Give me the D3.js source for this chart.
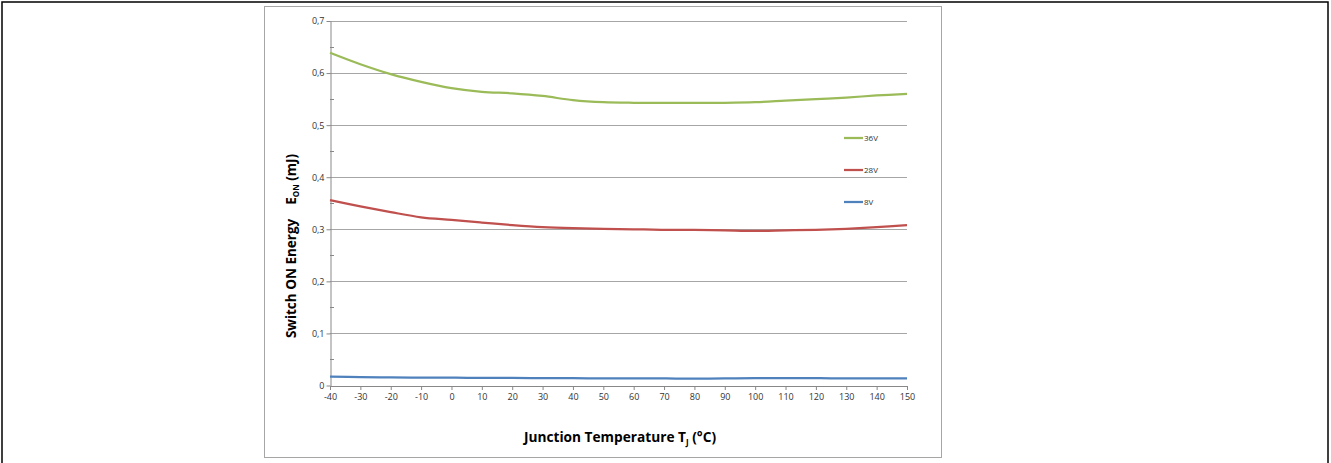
<!DOCTYPE html>
<html>
<head>
<meta charset="utf-8">
<script src="https://cdn.jsdelivr.net/npm/d3@7"></script>
<style>
  body { margin: 0; background: #fff; }
  svg { display: block; }
</style>
</head>
<body>
<script>
// temperatures (°C) and E_ON values (mJ)
const temps = [-40, -30, -20, -10, 0, 10, 20, 30, 40, 50, 60, 70, 80, 90, 100, 110, 120, 130, 140, 150];
const e36 = [0.639, 0.617, 0.598, 0.583, 0.571, 0.564, 0.561, 0.556, 0.548, 0.544, 0.543, 0.543, 0.543, 0.543, 0.544, 0.547, 0.550, 0.553, 0.557, 0.560];
const e28 = [0.356, 0.344, 0.333, 0.323, 0.318, 0.313, 0.308, 0.304, 0.302, 0.301, 0.300, 0.299, 0.299, 0.298, 0.297, 0.298, 0.299, 0.301, 0.304, 0.308];
const e8  = [0.017, 0.016, 0.0155, 0.015, 0.015, 0.0145, 0.0145, 0.014, 0.014, 0.0135, 0.0135, 0.0135, 0.013, 0.0135, 0.014, 0.014, 0.014, 0.0135, 0.0135, 0.0135];
const seriesNames = ["36V", "28V", "8V"];
const seriesColors = ["#9bbb59", "#c0504d", "#4f81bd"];
const yTicks = [0, 0.1, 0.2, 0.3, 0.4, 0.5, 0.6, 0.7];
const xTicks = d3.range(-40, 151, 10);

const svg = d3.select("body").append("svg")
  .attr("width", 1331)
  .attr("height", 463);

// outer frame (bottom edge runs past the picture)
svg.append("rect")
  .attr("x", 2).attr("y", 2)
  .attr("width", 1326).attr("height", 470)
  .attr("fill", "none").attr("stroke", "#000").attr("stroke-width", 1.5);

// chart frame
svg.append("rect")
  .attr("x", 264.5).attr("y", 6.5)
  .attr("width", 677).attr("height", 451)
  .attr("fill", "#fff").attr("stroke", "#a6a6a6").attr("stroke-width", 1);

let x = d3.scaleLinear().domain([-40, 150]).range([330, 907]);
let y = d3.scaleLinear().domain([0, 0.7]).range([385.5, 21]);

const font = "'Open Sans', 'Liberation Sans', sans-serif";

// gridlines
svg.append("g").selectAll("line")
  .data(yTicks.slice(1))
  .enter().append("line")
    .attr("x1", x(-40)).attr("x2", x(150))
    .attr("y1", (d) => Math.round(y(d)) + 0.5)
    .attr("y2", (d) => Math.round(y(d)) + 0.5)
    .attr("stroke", "#a6a6a6").attr("stroke-width", 1);

// minor ticks on the inside of the y axis
svg.append("g").selectAll("line")
  .data(yTicks.slice(0, -1).map((d) => d + 0.05))
  .enter().append("line")
    .attr("x1", x(-40)).attr("x2", x(-40) + 4)
    .attr("y1", (d) => Math.round(y(d)) + 0.5)
    .attr("y2", (d) => Math.round(y(d)) + 0.5)
    .attr("stroke", "#888");

// y axis
let yAxis = d3.axisLeft(y)
  .tickValues(yTicks)
  .tickSize(4)
  .tickSizeOuter(0)
  .tickFormat((d) => String(d).replace(".", ","));

let gy = svg.append("g")
  .attr("transform", "translate(" + (x(-40) + 0.5) + ",0)")
  .call(yAxis);
gy.select(".domain").attr("stroke", "#888");
gy.selectAll(".tick line").attr("stroke", "#888");
gy.selectAll(".tick text")
  .attr("x", -6)
  .style("font-family", font).style("font-size", "9px").attr("fill", "#333");

// x axis
let xAxis = d3.axisBottom(x)
  .tickValues(xTicks)
  .tickSize(4)
  .tickSizeOuter(0)
  .tickFormat((d) => String(d));

let gx = svg.append("g")
  .attr("transform", "translate(0," + (y(0) + 0.5) + ")")
  .call(xAxis);
gx.select(".domain").attr("stroke", "#888");
gx.selectAll(".tick line").attr("stroke", "#888");
gx.selectAll(".tick text")
  .attr("y", 8)
  .style("font-family", font).style("font-size", "9px").attr("fill", "#333");

// series lines
let line = d3.line()
  .x((d) => x(d[0]))
  .y((d) => y(d[1]))
  .curve(d3.curveCatmullRom.alpha(0.5));

[e36, e28, e8].forEach(function(vals, i) {
  svg.append("path")
    .datum(temps.map((t, j) => [t, vals[j]]))
    .attr("d", line)
    .attr("fill", "none")
    .attr("stroke", seriesColors[i])
    .attr("stroke-width", 2.25);
});

// legend
let legend = svg.append("g");
seriesNames.forEach(function(name, i) {
  let ly = 138 + i * 32;
  legend.append("line")
    .attr("x1", 844).attr("x2", 863)
    .attr("y1", ly).attr("y2", ly)
    .attr("stroke", seriesColors[i]).attr("stroke-width", 2.25);
  legend.append("text")
    .attr("x", 864).attr("y", ly + 3)
    .text(name)
    .style("font-family", font).style("font-size", "8px").attr("fill", "#333");
});

// axis titles
let xt = svg.append("text")
  .attr("x", 620).attr("y", 442)
  .attr("text-anchor", "middle")
  .style("font-family", font).style("font-size", "13.7px").style("font-weight", "bold")
  .attr("fill", "#000");
xt.append("tspan").text("Junction Temperature T");
xt.append("tspan").attr("dy", 3).style("font-size", "8px").text("J");
xt.append("tspan").attr("dy", -3).text(" (°C)");

let yt = svg.append("text")
  .attr("transform", "translate(296,246)rotate(-90)")
  .attr("text-anchor", "middle")
  .style("font-family", font).style("font-size", "13.5px").style("font-weight", "bold")
  .attr("fill", "#000");
yt.append("tspan").text("Switch ON Energy\u00a0\u00a0\u00a0\u00a0E");
yt.append("tspan").attr("dy", 3).style("font-size", "8px").text("ON");
yt.append("tspan").attr("dy", -3).text(" (mJ)");
</script>
</body>
</html>
